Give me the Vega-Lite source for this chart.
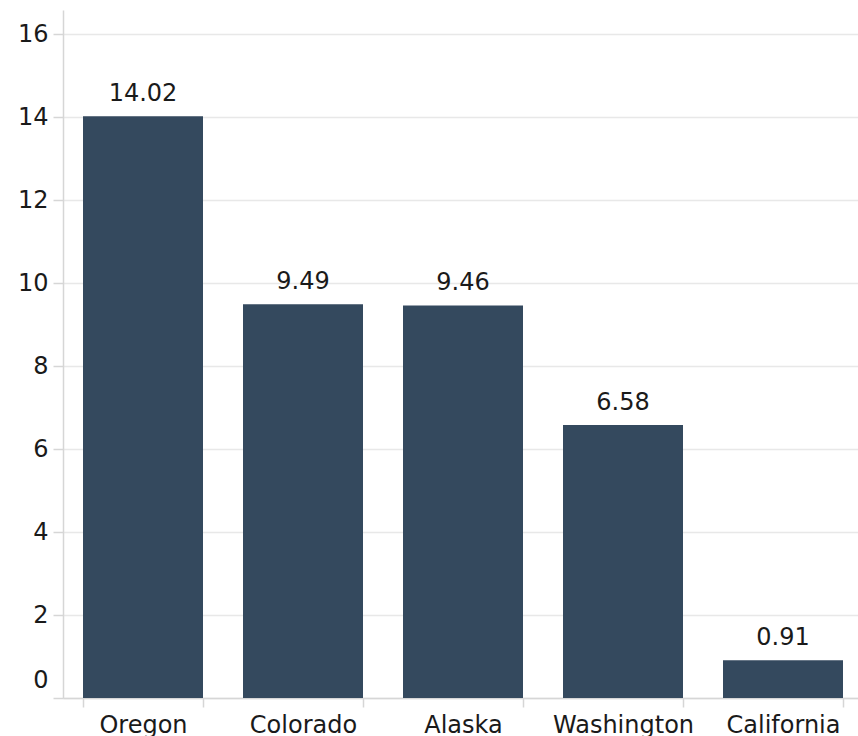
{
  "$schema": "https://vega.github.io/schema/vega-lite/v6.json",
  "width": 800,
  "height": 688,
  "autosize": {"type": "none"},
  "padding": {"left": 63, "top": 10, "right": 0, "bottom": 38},
  "background": "white",
  "config": {"view": {"stroke": null}, "font": "DejaVu Sans"},
  "data": {"values": [
    {"state": "Oregon", "value": 14.02},
    {"state": "Colorado", "value": 9.49},
    {"state": "Alaska", "value": 9.46},
    {"state": "Washington", "value": 6.58},
    {"state": "California", "value": 0.91}
  ]},
  "encoding": {
    "x": {"field": "state", "type": "nominal", "sort": null,
      "scale": {"paddingInner": 0.25, "paddingOuter": 0.125},
      "axis": {"title": null, "labelAngle": 0, "labelFont": "DejaVu Sans", "labelFontSize": 24, "labelColor": "#1a1a1a",
        "tickBand": "extent", "tickSize": 9, "tickColor": "#d6d6d6", "tickWidth": 1.5,
        "domainColor": "#d6d6d6", "domainWidth": 1.5, "labelPadding": 6, "grid": false}},
    "y": {"field": "value", "type": "quantitative",
      "scale": {"domain": [0, 16.58], "nice": false},
      "axis": {"title": null, "values": [0, 2, 4, 6, 8, 10, 12, 14, 16], "labelFont": "DejaVu Sans", "labelFontSize": 24, "labelColor": "#1a1a1a",
        "tickSize": 10, "tickColor": "#d6d6d6", "tickWidth": 1.5, "domainColor": "#d6d6d6", "domainWidth": 1.5,
        "gridColor": "#e8e8e8", "gridWidth": 1.5, "labelPadding": 5, "labelFlush": true, "labelFlushOffset": -6}}
  },
  "layer": [
    {"mark": {"type": "bar", "color": "#34495e"}},
    {"mark": {"type": "text", "baseline": "alphabetic", "dy": -15, "font": "DejaVu Sans", "fontSize": 24, "color": "#1a1a1a"},
      "encoding": {"text": {"field": "value", "type": "quantitative", "format": ".2f"}}}
  ]
}
